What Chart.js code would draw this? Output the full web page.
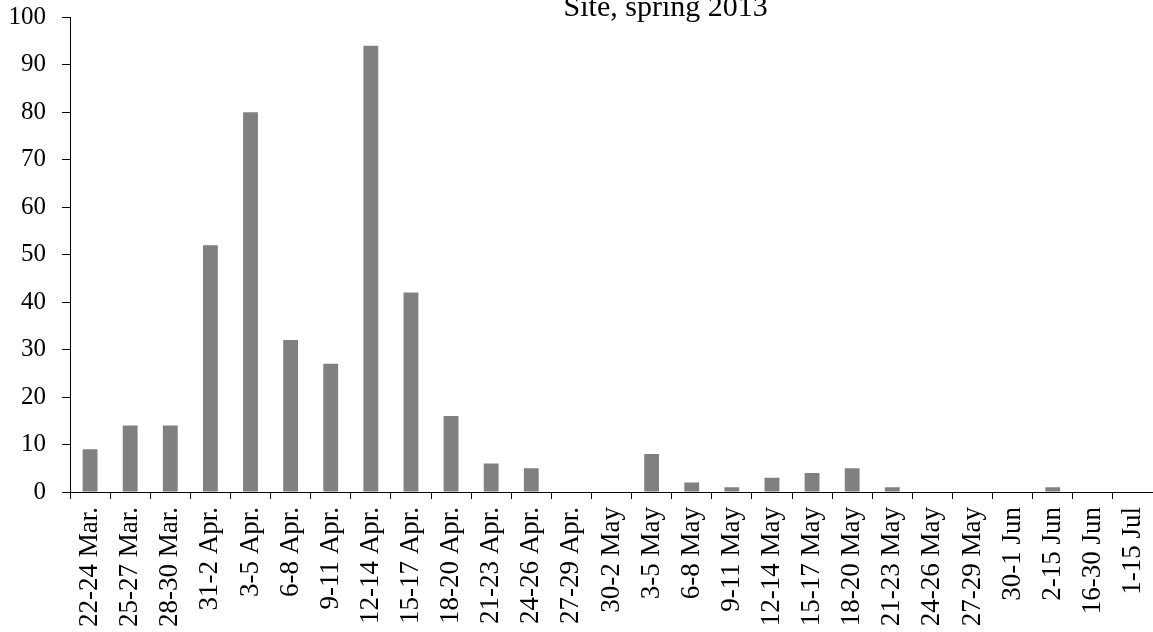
<!DOCTYPE html>
<html>
<head>
<meta charset="utf-8">
<script src="https://cdn.jsdelivr.net/npm/chart.js@4/dist/chart.umd.min.js"></script>
<style>
  html, body { margin: 0; padding: 0; background: #fff; overflow: hidden; }
  #wrap { position: relative; width: 1153px; height: 632px; }
</style>
</head>
<body>
<div id="wrap"><canvas id="myChart" width="1153" height="632"></canvas></div>
<script>
var chartTitle = 'Site, spring 2013';
var periods = ['22-24 Mar.', '25-27 Mar.', '28-30 Mar.', '31-2 Apr.', '3-5 Apr.', '6-8 Apr.',
  '9-11 Apr.', '12-14 Apr.', '15-17 Apr.', '18-20 Apr.', '21-23 Apr.', '24-26 Apr.',
  '27-29 Apr.', '30-2 May', '3-5 May', '6-8 May', '9-11 May', '12-14 May', '15-17 May',
  '18-20 May', '21-23 May', '24-26 May', '27-29 May', '30-1 Jun', '2-15 Jun',
  '16-30 Jun', '1-15 Jul'];
var counts = [9, 14, 14, 52, 80, 32, 27, 94, 42, 16, 6, 5, 0, 0, 8, 2, 1, 3, 4, 5, 1,
  0, 0, 0, 1, 0, 0];
var yTicks = [0, 10, 20, 30, 40, 50, 60, 70, 80, 90, 100];

const serif = "'Liberation Serif', 'Times New Roman', serif";

// title sits off-centre above the plot, partly clipped at the top
const titlePlugin = {
  id: 'offTitle',
  afterDraw(chart) {
    const ctx = chart.ctx;
    const area = chart.chartArea;
    ctx.save();
    ctx.font = '30px ' + serif;
    ctx.fillStyle = '#000';
    ctx.textAlign = 'center';
    ctx.textBaseline = 'alphabetic';
    ctx.fillText(chartTitle, area.left + (area.right - area.left) * 0.55, area.top - 1);
    ctx.restore();
  }
};

const ctx = document.getElementById('myChart').getContext('2d');
new Chart(ctx, {
  type: 'bar',
  data: {
    labels: periods,
    datasets: [{
      data: counts,
      backgroundColor: '#808080',
      borderWidth: 0,
      barPercentage: 0.37,
      categoryPercentage: 1.0
    }]
  },
  options: {
    responsive: false,
    animation: false,
    layout: { padding: { top: 16, right: 0, left: 0, bottom: 0 } },
    plugins: { legend: { display: false }, tooltip: { enabled: false } },
    scales: {
      x: {
        offset: true,
        grid: { offset: true, drawOnChartArea: false, drawTicks: true, tickLength: 7, color: '#000' },
        border: { color: '#000', width: 1 },
        ticks: {
          autoSkip: false,
          minRotation: 90,
          maxRotation: 90,
          padding: 8,
          color: '#000',
          // tiny lineHeight keeps the last label from reserving space on the right
          font: { family: serif, size: 27, lineHeight: 0.1 }
        },
        afterFit(scale) { scale.height = 140; }
      },
      y: {
        min: 0,
        max: 100,
        afterBuildTicks(scale) { scale.ticks = yTicks.map(v => ({ value: v })); },
        grid: { drawOnChartArea: false, drawTicks: true, tickLength: 8, color: '#000' },
        border: { color: '#000', width: 1 },
        ticks: {
          padding: 16,
          color: '#000',
          font: { family: serif, size: 25, lineHeight: 0.1 }
        },
        afterFit(scale) { scale.width = 70; }
      }
    }
  },
  plugins: [titlePlugin]
});
</script>
</body>
</html>
